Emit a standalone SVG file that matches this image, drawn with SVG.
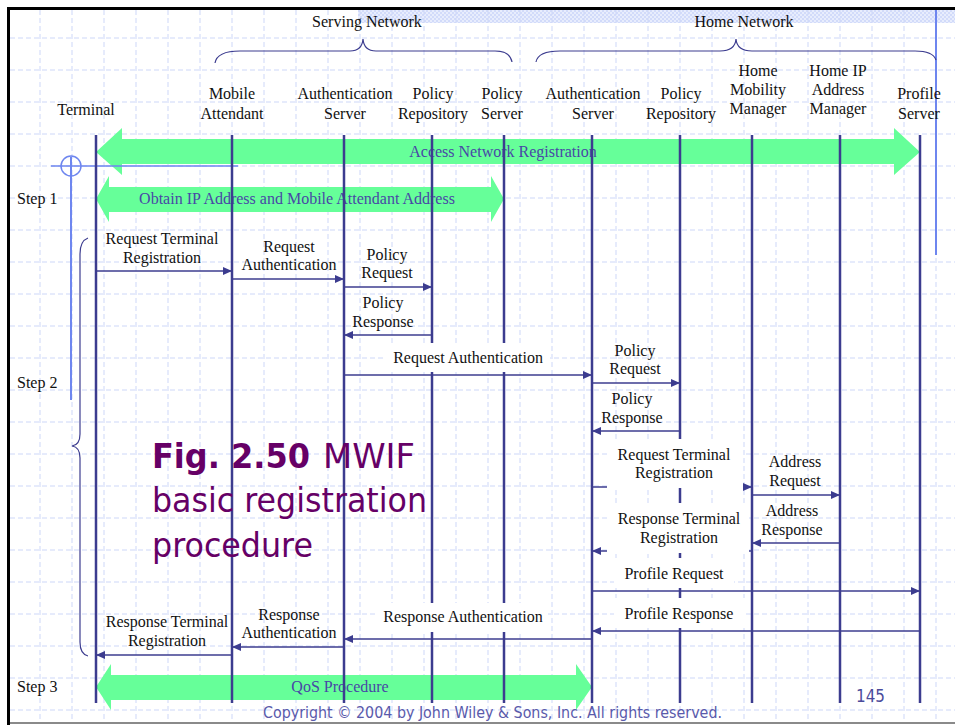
<svg xmlns="http://www.w3.org/2000/svg" width="955" height="725" viewBox="0 0 955 725">
<defs>
<style>
.grid{fill:none;stroke:#cdd7f8;stroke-width:1;stroke-dasharray:5 3}
.life{stroke:#3c3c8f;stroke-width:2.5}
.msg{fill:none;stroke:#3c3c8f;stroke-width:1.4;marker-end:url(#ah)}
.t{font-family:"Liberation Serif","Times New Roman",serif;font-size:16px;fill:#111;text-anchor:middle}
.st{font-family:"Liberation Serif","Times New Roman",serif;font-size:16px;fill:#111}
.gt{font-family:"Liberation Serif","Times New Roman",serif;font-size:16px;fill:#4848a6;text-anchor:middle}
.green{fill:#66ff99}
.deco{fill:none;stroke:#6e86ef;stroke-width:2}
.brace{fill:none;stroke:#3c3c8f;stroke-width:1.2}
.bg{fill:#fff}
.title{font-family:"DejaVu Sans",Verdana,sans-serif;font-size:34px;fill:#660066}
</style>
<marker id="ah" markerWidth="9" markerHeight="8" refX="9" refY="4" orient="auto" markerUnits="userSpaceOnUse">
<path d="M0 0L9 4L0 8z" fill="#3c3c8f"/>
</marker>
<pattern id="hatch" width="4" height="4" patternUnits="userSpaceOnUse">
<rect width="4" height="4" fill="#e8edfd"/>
<rect width="2" height="2" fill="#d2dbfa"/>
<rect x="2" y="2" width="2" height="2" fill="#d2dbfa"/>
</pattern>
</defs>
<rect width="955" height="725" fill="#fff"/>
<rect x="358" y="10" width="597" height="13" fill="url(#hatch)"/>
<path class="grid" d="M40 10V722M72 10V722M104 10V722M136 10V722M168 10V722M200 10V722M232 10V722M264 10V722M296 10V722M328 10V722M360 10V722M392 10V722M424 10V722M456 10V722M488 10V722M520 10V722M552 10V722M584 10V722M616 10V722M648 10V722M680 10V722M712 10V722M744 10V722M776 10V722M808 10V722M840 10V722M872 10V722M904 10V722M936 10V722M10 38H955M10 70H955M10 102H955M10 134H955M10 166H955M10 198H955M10 230H955M10 262H955M10 294H955M10 326H955M10 358H955M10 390H955M10 422H955M10 454H955M10 486H955M10 518H955M10 550H955M10 582H955M10 614H955M10 646H955M10 678H955M10 710H955"/>
<rect x="7" y="7" width="948" height="3" fill="#000"/>
<rect x="7" y="7" width="3" height="718" fill="#000"/>
<rect x="10" y="722" width="945" height="2" fill="#8a8a8a"/>
<line class="deco" x1="936" y1="10" x2="936" y2="255"/>

<g id="groups">
<text class="t" x="367" y="27">Serving Network</text>
<path class="brace" d="M215 63Q217 51 240 51L350 51Q362 51 363 39Q364 51 376 51L495 51Q510 51 512 62"/>
<text class="t" x="744" y="27">Home Network</text>
<path class="brace" d="M536 62Q538 51 560 51L720 51Q735 51 736 39Q737 51 752 51L915 51Q933 51 936 60"/>
</g>

<g id="steps">
<text class="st" x="17" y="204">Step 1</text>
<text class="st" x="17" y="388">Step 2</text>
<text class="st" x="17" y="692">Step 3</text>
<path class="brace" d="M88 238Q80 241 80 254L80 434Q80 445 72 446Q80 447 80 458L80 642Q80 654 88 656"/>
</g>

<g id="phases">
<polygon class="green" points="96,152 122,128 122,139 894,139 894,128 920,152 894,175 894,164 122,164 122,175"/>
<text class="gt" x="503" y="157">Access Network Registration</text>
<polygon class="green" points="96,199 109,176 109,187 491,187 491,176 504,199 491,222 491,212 109,212 109,222"/>
<text class="gt" x="297" y="204">Obtain IP Address and Mobile Attendant Address</text>
<polygon class="green" points="96,687 111,664 111,675 576,675 576,664 592,687 576,710 576,700 111,700 111,710"/>
<text class="gt" x="340" y="692">QoS Procedure</text>
</g>

<g id="decoration">
<line class="deco" x1="71" y1="157" x2="71" y2="400"/>
<circle cx="71" cy="166" r="10" fill="none" stroke="#6e86ef" stroke-width="1.5"/>
<line x1="51" y1="166" x2="238" y2="166" stroke="#6e86ef" stroke-width="1.5"/>
</g>

<g id="terminal"><text class="t" x="86" y="115">Terminal</text><line class="life" x1="96" y1="135" x2="96" y2="703"/></g>
<g id="mobile-attendant"><text class="t" x="232" y="99">Mobile</text><text class="t" x="232" y="119">Attendant</text><line class="life" x1="232" y1="135" x2="232" y2="703"/></g>
<g id="serving-auth-server"><text class="t" x="345" y="99">Authentication</text><text class="t" x="345" y="119">Server</text><line class="life" x1="344" y1="135" x2="344" y2="703"/></g>
<g id="serving-policy-repository"><text class="t" x="433" y="99">Policy</text><text class="t" x="433" y="119">Repository</text><line class="life" x1="432" y1="135" x2="432" y2="703"/></g>
<g id="policy-server"><text class="t" x="502" y="99">Policy</text><text class="t" x="502" y="119">Server</text><line class="life" x1="504" y1="135" x2="504" y2="703"/></g>
<g id="home-auth-server"><text class="t" x="593" y="99">Authentication</text><text class="t" x="593" y="119">Server</text><line class="life" x1="592" y1="135" x2="592" y2="703"/></g>
<g id="home-policy-repository"><text class="t" x="681" y="99">Policy</text><text class="t" x="681" y="119">Repository</text><line class="life" x1="680" y1="135" x2="680" y2="703"/></g>
<g id="home-mobility-manager"><text class="t" x="758" y="76">Home</text><text class="t" x="758" y="95">Mobility</text><text class="t" x="758" y="114">Manager</text><line class="life" x1="752" y1="135" x2="752" y2="703"/></g>
<g id="home-ip-address-manager"><text class="t" x="838" y="76">Home IP</text><text class="t" x="838" y="95">Address</text><text class="t" x="838" y="114">Manager</text><line class="life" x1="840" y1="135" x2="840" y2="703"/></g>
<g id="profile-server"><text class="t" x="919" y="99">Profile</text><text class="t" x="919" y="119">Server</text><line class="life" x1="920" y1="135" x2="920" y2="703"/></g>

<g id="connectors">
<path class="msg" d="M96 271H232"/>
<path class="msg" d="M232 279H344"/>
<path class="msg" d="M344 287H432"/>
<path class="msg" d="M432 335H344"/>
<path class="msg" d="M344 375H592"/>
<path class="msg" d="M592 383H680"/>
<path class="msg" d="M680 431H592"/>
<path class="msg" d="M592 487H752"/>
<path class="msg" d="M752 495H840"/>
<path class="msg" d="M840 543H752"/>
<path class="msg" d="M752 551H592"/>
<path class="msg" d="M592 591H920"/>
<path class="msg" d="M920 631H592"/>
<path class="msg" d="M592 639H344"/>
<path class="msg" d="M344 647H232"/>
<path class="msg" d="M232 655H96"/>
</g>

<g id="labels">
<rect class="bg" x="385" y="343" width="165" height="29"/>
<rect class="bg" x="378" y="603" width="170" height="29"/>
<rect class="bg" x="607" y="439" width="136" height="49"/>
<rect class="bg" x="607" y="503" width="142" height="50"/>
<rect class="bg" x="614" y="558" width="120" height="30"/>
<rect class="bg" x="614" y="598" width="132" height="30"/>
<text class="t" x="162" y="244">Request Terminal</text><text class="t" x="162" y="263">Registration</text>
<text class="t" x="289" y="252">Request</text><text class="t" x="289" y="270">Authentication</text>
<text class="t" x="387" y="260">Policy</text><text class="t" x="387" y="278">Request</text>
<text class="t" x="383" y="308">Policy</text><text class="t" x="383" y="327">Response</text>
<text class="t" x="468" y="363">Request Authentication</text>
<text class="t" x="635" y="356">Policy</text><text class="t" x="635" y="374">Request</text>
<text class="t" x="632" y="404">Policy</text><text class="t" x="632" y="423">Response</text>
<text class="t" x="674" y="460">Request Terminal</text><text class="t" x="674" y="478">Registration</text>
<text class="t" x="795" y="467">Address</text><text class="t" x="795" y="486">Request</text>
<text class="t" x="792" y="516">Address</text><text class="t" x="792" y="535">Response</text>
<text class="t" x="679" y="524">Response Terminal</text><text class="t" x="679" y="543">Registration</text>
<text class="t" x="674" y="579">Profile Request</text>
<text class="t" x="679" y="619">Profile Response</text>
<text class="t" x="463" y="622">Response Authentication</text>
<text class="t" x="289" y="620">Response</text><text class="t" x="289" y="638">Authentication</text>
<text class="t" x="167" y="627">Response Terminal</text><text class="t" x="167" y="646">Registration</text>
</g>

<g id="title">
<text class="title" x="152" y="468" font-weight="bold" textLength="158" lengthAdjust="spacingAndGlyphs">Fig. 2.50</text>
<text class="title" x="323" y="468" textLength="92" lengthAdjust="spacingAndGlyphs">MWIF</text>
<text class="title" x="152" y="512" textLength="275" lengthAdjust="spacingAndGlyphs">basic registration</text>
<text class="title" x="152" y="557" textLength="161" lengthAdjust="spacingAndGlyphs">procedure</text>
</g>

<g id="footer">
<text x="263" y="718" font-family="DejaVu Sans,Verdana,sans-serif" font-size="15" fill="#5a5aab" textLength="459" lengthAdjust="spacingAndGlyphs">Copyright © 2004 by John Wiley &amp; Sons, Inc. All rights reserved.</text>
<text x="856" y="702" font-family="DejaVu Sans,Verdana,sans-serif" font-size="17" fill="#4b4b9b" textLength="29" lengthAdjust="spacingAndGlyphs">145</text>
</g>
</svg>
